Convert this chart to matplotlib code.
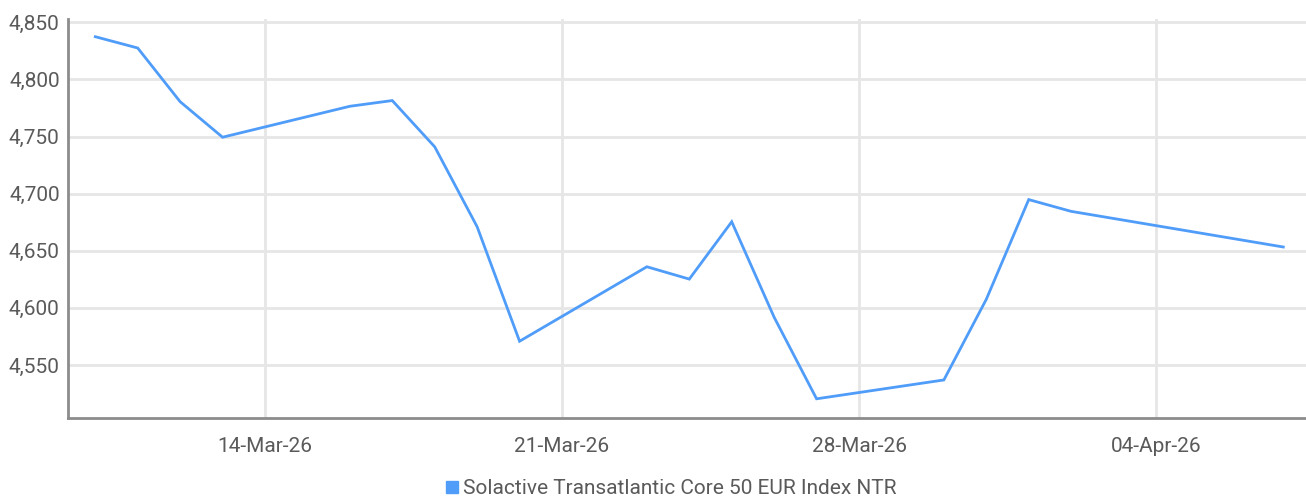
import matplotlib
matplotlib.use("Agg")
import matplotlib.pyplot as plt
import matplotlib.dates as mdates
from matplotlib.lines import Line2D
import numpy as np
import datetime as dt

plt.rcParams['font.family'] = ['Liberation Sans Narrow', 'Roboto', 'DejaVu Sans']

dates = ["2026-03-10", "2026-03-11", "2026-03-12", "2026-03-13", "2026-03-16",
         "2026-03-17", "2026-03-18", "2026-03-19", "2026-03-20", "2026-03-23",
         "2026-03-24", "2026-03-25", "2026-03-26", "2026-03-27", "2026-03-30",
         "2026-03-31", "2026-04-01", "2026-04-02", "2026-04-07"]
values = [4837.4, 4827.5, 4780.5, 4749.4, 4776.5,
          4781.5, 4741.0, 4671.0, 4570.8, 4636.0,
          4625.2, 4675.4, 4591.8, 4520.4, 4536.9,
          4607.5, 4694.8, 4684.5, 4653.3]
series_name = "Solactive Transatlantic Core 50 EUR Index NTR"
xtick_dates = ["2026-03-14", "2026-03-21", "2026-03-28", "2026-04-04"]
yticks = [4550, 4600, 4650, 4700, 4750, 4800, 4850]

x = [dt.datetime.strptime(d, "%Y-%m-%d") for d in dates]
xt = [dt.datetime.strptime(d, "%Y-%m-%d") for d in xtick_dates]

W, H = 1306, 503
fig = plt.figure(figsize=(W / 100, H / 100), dpi=100)
ax = fig.add_axes([68 / W, (H - 418) / H, (W - 68) / W, (418 - 19) / H])

line_color = "#4f9cf9"
ax.plot(x, values, color=line_color, lw=2.0, solid_joinstyle="miter", zorder=3)

ax.set_ylim(4503.6, 4852.9)
x0 = dt.datetime(2026, 3, 14) - dt.timedelta(days=4.643)
x1 = dt.datetime(2026, 4, 4) + dt.timedelta(days=3.535)
ax.set_xlim(x0, x1)

ax.set_yticks(yticks)
ax.set_yticklabels([f"{v:,}" for v in yticks])
ax.set_xticks(xt)
ax.xaxis.set_major_formatter(mdates.DateFormatter("%d-%b-%y"))

ax.grid(True, color="#e6e6e6", lw=2.0, zorder=0)
ax.set_axisbelow(True)
for s in ["top", "right"]:
    ax.spines[s].set_visible(False)
for s in ["left", "bottom"]:
    ax.spines[s].set_color("#8c8c8c")
    ax.spines[s].set_linewidth(2.0)

ax.tick_params(axis="both", length=0, colors="#5a5a5a", labelsize=15)
ax.tick_params(axis="y", pad=6)
ax.tick_params(axis="x", pad=14)

handle = Line2D([], [], marker="s", color=line_color, linestyle="none", markersize=9)
fig.legend([handle], [series_name], loc="center", bbox_to_anchor=(670 / W, 1 - 489 / H),
           frameon=False, fontsize=15, handletextpad=0.1, labelcolor="#5a5a5a",
           handlelength=0.8)

fig.savefig("out.png", dpi=100)
